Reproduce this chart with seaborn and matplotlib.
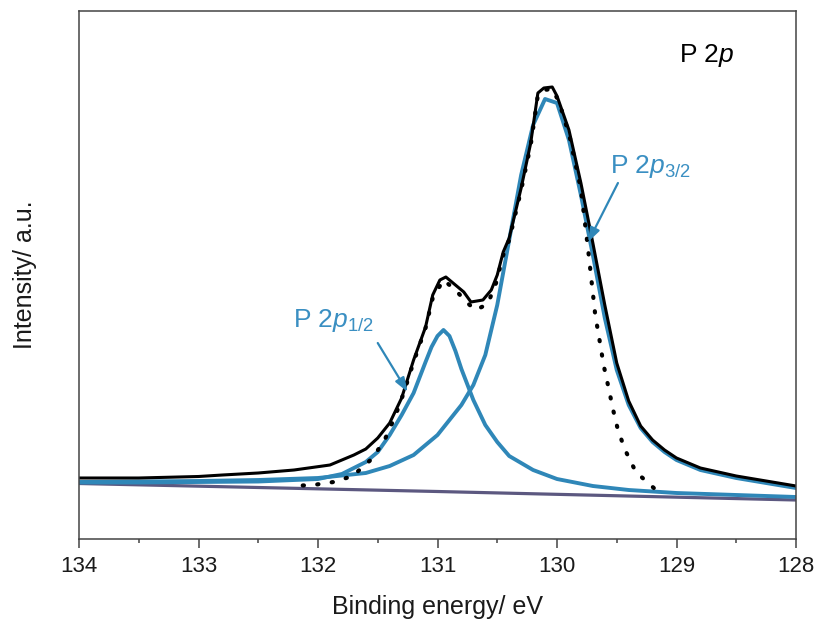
import matplotlib
matplotlib.use("Agg")
import matplotlib.pyplot as plt
import seaborn as sns

# ---- data (binding energy in eV, intensity in arbitrary units) ----
be_base = [134.0, 131.0, 128.0]
int_base = [55.5, 47.5, 39.0]

be_p32 = [134.0, 133.5, 133.0, 132.5, 132.0, 131.6, 131.4, 131.2, 131.0, 130.9,
          130.8, 130.7, 130.6, 130.5, 130.4, 130.3, 130.2, 130.1, 130.0, 129.9,
          129.8, 129.7, 129.6, 129.5, 129.4, 129.3, 129.2, 129.1, 129.0, 128.8,
          128.5, 128.0]
int_p32 = [57, 57.5, 58, 59, 61, 66, 73, 84, 104, 119,
           134, 154, 184, 234, 299, 364, 414, 440, 436, 399,
           344, 284, 221, 169, 134, 111, 97, 87, 79, 69,
           61, 51]

be_p12 = [134.0, 133.5, 133.0, 132.5, 132.0, 131.8, 131.6, 131.5, 131.4, 131.3,
          131.2, 131.1, 131.05, 131.0, 130.95, 130.9, 130.85, 130.8, 130.7, 130.6,
          130.5, 130.4, 130.2, 130.0, 129.7, 129.4, 129.0, 128.5, 128.0]
int_p12 = [56.5, 56.5, 57, 57.5, 60, 65, 77, 87, 104, 124,
           146, 177, 192, 203, 209, 203, 188, 170, 139, 114,
           97, 83, 69, 60, 53, 49, 46, 44, 42]

be_exp = [134.0, 133.5, 133.0, 132.8, 132.5, 132.2, 131.9, 131.7, 131.6, 131.5,
          131.4, 131.3, 131.2, 131.1, 131.04, 130.98, 130.93, 130.85, 130.78, 130.72,
          130.62, 130.55, 130.5, 130.45, 130.4, 130.3, 130.22, 130.16, 130.11, 130.04,
          130.0, 129.9, 129.8, 129.7, 129.6, 129.5, 129.4, 129.3, 129.2, 129.1,
          129.0, 128.8, 128.5, 128.0]
int_exp = [61, 61, 62.5, 64, 66, 69, 74, 84, 90, 101,
           116, 141, 179, 212, 244, 259, 262, 254, 247, 237,
           239, 249, 264, 287, 301, 351, 396, 446, 451, 452,
           443, 409, 356, 296, 234, 176, 138, 113, 99, 89,
           81, 71, 63, 53]

be_dot = [132.23, 132.04, 131.87, 131.71, 131.56, 131.45, 131.35, 131.28, 131.2, 131.1,
          131.04, 130.95, 130.85, 130.75, 130.68, 130.58, 130.51, 130.45, 130.4, 130.3,
          130.22, 130.16, 130.11, 130.04, 130.0, 129.95, 129.89, 129.8, 129.74, 129.68,
          129.64, 129.61, 129.57, 129.53, 129.49, 129.43, 129.34, 129.19]
int_dot = [53, 54, 57, 63, 79, 97, 124, 147, 177, 211,
           241, 259, 249, 236, 229, 235, 256, 284, 299, 349,
           394, 444, 449, 450, 441, 425, 400, 350, 290, 224,
           196, 174, 152, 129, 109, 89, 67, 51]

x_ticks = [134, 133, 132, 131, 130, 129, 128]
x_tick_labels = ["134", "133", "132", "131", "130", "129", "128"]

# ---- style ----
sns.set_theme(style="white")
plt.rcParams["font.family"] = ["Liberation Sans", "DejaVu Sans"]
plt.rcParams["mathtext.fontset"] = "custom"
plt.rcParams["mathtext.rm"] = "Liberation Sans"
plt.rcParams["mathtext.it"] = "Liberation Sans:italic"

BLUE = "#2f87b8"
TBLUE = "#3a8fc2"
PURPLE = "#5c5880"
SPINE = "#444444"
TXT = "#1a1a1a"

fig = plt.figure(figsize=(8.17, 6.25), dpi=100)
ax = fig.add_axes([79 / 817, 86 / 625, (796 - 79) / 817, (539 - 11) / 625])

sns.lineplot(x=be_base, y=int_base, ax=ax, color=PURPLE, lw=2.3)
sns.lineplot(x=be_p12, y=int_p12, ax=ax, color=BLUE, lw=2.8)
sns.lineplot(x=be_p32, y=int_p32, ax=ax, color=BLUE, lw=2.8)
sns.lineplot(x=be_exp, y=int_exp, ax=ax, color="black", lw=2.2)
sns.lineplot(x=be_dot, y=int_dot, ax=ax, color="black", lw=3.0,
             linestyle=(0, (0.3, 3.2)), dash_capstyle="round")

ax.set_xlim(134, 128)
ax.set_ylim(0, 528)
ax.set_xticks(x_ticks)
ax.set_xticklabels(x_tick_labels)
ax.set_xticks([133.5, 132.5, 131.5, 130.5, 129.5, 128.5], minor=True)
ax.set_yticks([])
ax.tick_params(axis="x", which="major", direction="out", length=6.5, width=1.1,
               color=SPINE, labelsize=16, pad=6, bottom=True, labelcolor=TXT)
ax.tick_params(axis="x", which="minor", direction="out", length=3.2, width=1.1,
               color=SPINE, bottom=True)
for s in ax.spines.values():
    s.set_color(SPINE)
    s.set_linewidth(1.1)

ax.set_xlabel("Binding energy/ eV", fontsize=18, labelpad=13, color=TXT)
ax.set_ylabel("Intensity/ a.u.", fontsize=18, labelpad=30, color=TXT)

ax.text(128.98, 477, r"P $\mathit{2p}$", fontsize=19, color="black",
        ha="left", va="baseline")
ax.text(132.21, 212, r"P $\mathit{2p}_{\mathrm{1/2}}$", fontsize=19, color=TBLUE,
        ha="left", va="baseline")
ax.text(129.56, 366, r"P $\mathit{2p}_{\mathrm{3/2}}$", fontsize=19, color=TBLUE,
        ha="left", va="baseline")

arrow_kw = dict(arrowstyle="-|>,head_length=0.7,head_width=0.25", color=BLUE,
                lw=1.6, shrinkA=0, shrinkB=0)
ax.annotate("", xy=(131.25, 147), xytext=(131.50, 196), arrowprops=arrow_kw)
ax.annotate("", xy=(129.74, 297), xytext=(129.49, 356), arrowprops=arrow_kw)

fig.savefig("out.png", dpi=100)
